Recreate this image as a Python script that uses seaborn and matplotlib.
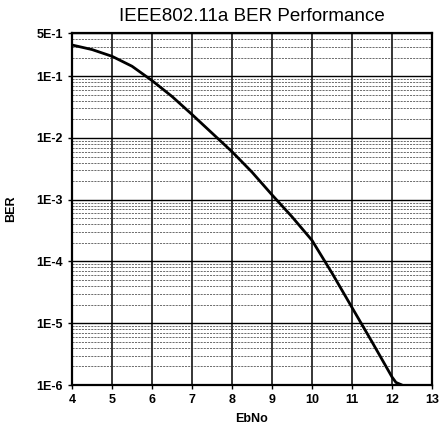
import matplotlib
matplotlib.use("Agg")
import matplotlib.pyplot as plt
import seaborn as sns
import pandas as pd
from matplotlib.ticker import LogLocator, FixedLocator, FixedFormatter, NullFormatter

# values
ebno = [4, 4.5, 5, 5.5, 6, 6.5, 7, 7.5, 8, 8.5, 9, 9.5, 10, 10.5, 11, 11.5, 12, 12.1, 12.25]
ber = [0.32, 0.27, 0.21, 0.145, 0.085, 0.047, 0.024, 0.012, 6e-3, 2.8e-3, 1.2e-3,
       5.3e-4, 2.2e-4, 6.5e-5, 1.8e-5, 5e-6, 1.35e-6, 1.1e-6, 1.0e-6]

xticks = [4, 5, 6, 7, 8, 9, 10, 11, 12, 13]
yticks = [5e-1, 1e-1, 1e-2, 1e-3, 1e-4, 1e-5, 1e-6]
ytick_labels = ["5E-1", "1E-1", "1E-2", "1E-3", "1E-4", "1E-5", "1E-6"]

df = pd.DataFrame({"EbNo": ebno, "BER": ber})

sns.set_style("white")
plt.rcParams['font.family'] = ['Liberation Sans', 'DejaVu Sans']
plt.rcParams['text.color'] = 'black'
plt.rcParams['axes.labelcolor'] = 'black'

fig = plt.figure(figsize=(4.4, 4.26), dpi=100)
ax = fig.add_axes([0.1636, 0.0962, 0.8182, 0.8263])

sns.lineplot(data=df, x="EbNo", y="BER", ax=ax, color="black", linewidth=2.0)

ax.set_yscale("log")
ax.set_xlim(4, 13)
ax.set_ylim(1e-6, 5e-1)

ax.xaxis.set_major_locator(FixedLocator(xticks))
ax.yaxis.set_major_locator(FixedLocator(yticks))
ax.yaxis.set_major_formatter(FixedFormatter(ytick_labels))
ax.yaxis.set_minor_locator(LogLocator(base=10, subs=range(2, 10), numticks=20))
ax.yaxis.set_minor_formatter(NullFormatter())

# grid: solid verticals and decades, dashed minor horizontals
ax.grid(True, which="major", axis="x", color="black", linewidth=1.1)
ax.grid(True, which="major", axis="y", color="black", linewidth=1.0)
ax.grid(True, which="minor", axis="y", color="#333333", linewidth=0.5, linestyle=(0, (3, 1.5)))

ax.tick_params(axis="both", which="major", direction="out", length=3, width=1,
               labelsize=9, color="black", labelcolor="black", bottom=True, left=True)
ax.tick_params(axis="y", which="minor", length=0)
for lab in ax.get_xticklabels() + ax.get_yticklabels():
    lab.set_fontweight("bold")

for s in ax.spines.values():
    s.set_color("black")
    s.set_linewidth(1.6)

ax.set_title("IEEE802.11a BER Performance", fontsize=13.5, pad=9, color="black")
ax.set_xlabel("EbNo", fontsize=9, fontweight="bold", labelpad=5, color="black")
ax.set_ylabel("BER", fontsize=9, fontweight="bold", labelpad=14, color="black")

fig.savefig("out.png", dpi=100)
